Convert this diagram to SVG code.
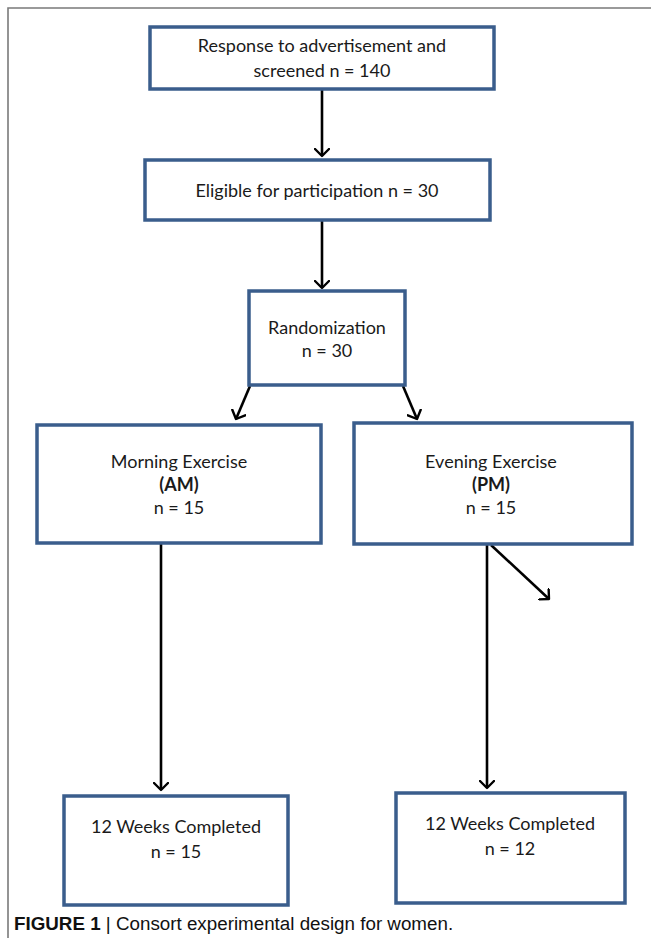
<svg xmlns="http://www.w3.org/2000/svg" width="651" height="938" viewBox="0 0 651 938">
<defs>
<marker id="ah" viewBox="0 0 16 16" refX="8" refY="8" markerWidth="16" markerHeight="16" markerUnits="userSpaceOnUse" orient="auto">
<path d="M1,1 L8,8 L1,15" fill="none" stroke="#000" stroke-width="2.4" stroke-linecap="round" stroke-linejoin="round"/>
</marker>
<style>
.box{fill:#fff;stroke:#3a5d8c;stroke-width:3.5}
.t{font-family:Lato,"Open Sans","Liberation Sans",sans-serif;font-size:18px;fill:#1a1a1a;text-anchor:middle}
.b{font-weight:bold}
.c{stroke:#000;stroke-width:2.6;fill:none;marker-end:url(#ah)}
.frame{stroke:#7a7a7a;stroke-width:1.6;fill:none}
</style>
</defs>
<rect width="651" height="938" fill="#fff"/>
<path class="frame" d="M8,938 V8 H651"/>
<g id="connectors">
<line class="c" x1="322" y1="90" x2="322" y2="156"/>
<line class="c" x1="322" y1="221" x2="322" y2="288"/>
<line class="c" x1="250" y1="386" x2="236" y2="419"/>
<line class="c" x1="403" y1="386" x2="417" y2="419"/>
<line class="c" x1="161" y1="544" x2="161" y2="790"/>
<line class="c" x1="487" y1="545" x2="487" y2="788"/>
<line class="c" x1="491" y1="545" x2="549" y2="599"/>
</g>
<g id="n1"><rect class="box" x="150" y="27" width="344" height="62"/>
<text class="t" x="322" y="52">Response to advertisement and</text>
<text class="t" x="322" y="77">screened n = 140</text></g>
<g id="n2"><rect class="box" x="145" y="160" width="345" height="60"/>
<text class="t" x="317" y="197">Eligible for participation n = 30</text></g>
<g id="n3"><rect class="box" x="249" y="291" width="156" height="94"/>
<text class="t" x="327" y="334">Randomization</text>
<text class="t" x="327" y="357">n = 30</text></g>
<g id="n4"><rect class="box" x="37" y="425" width="284" height="118"/>
<text class="t" x="179" y="468">Morning Exercise</text>
<text class="t b" x="179" y="491">(AM)</text>
<text class="t" x="179" y="514">n = 15</text></g>
<g id="n5"><rect class="box" x="354" y="423" width="278" height="121"/>
<text class="t" x="491" y="468">Evening Exercise</text>
<text class="t b" x="491" y="491">(PM)</text>
<text class="t" x="491" y="514">n = 15</text></g>
<g id="n6"><rect class="box" x="64" y="796" width="224" height="109"/>
<text class="t" x="176" y="833">12 Weeks Completed</text>
<text class="t" x="176" y="858">n = 15</text></g>
<g id="n7"><rect class="box" x="396" y="793" width="229" height="110"/>
<text class="t" x="510" y="830">12 Weeks Completed</text>
<text class="t" x="510" y="855">n = 12</text></g>
<text x="14" y="930" style="font-family:'Liberation Sans',Arial,sans-serif;font-size:18.8px;fill:#111"><tspan font-weight="bold">FIGURE 1</tspan> | Consort experimental design for women.</text>
</svg>
